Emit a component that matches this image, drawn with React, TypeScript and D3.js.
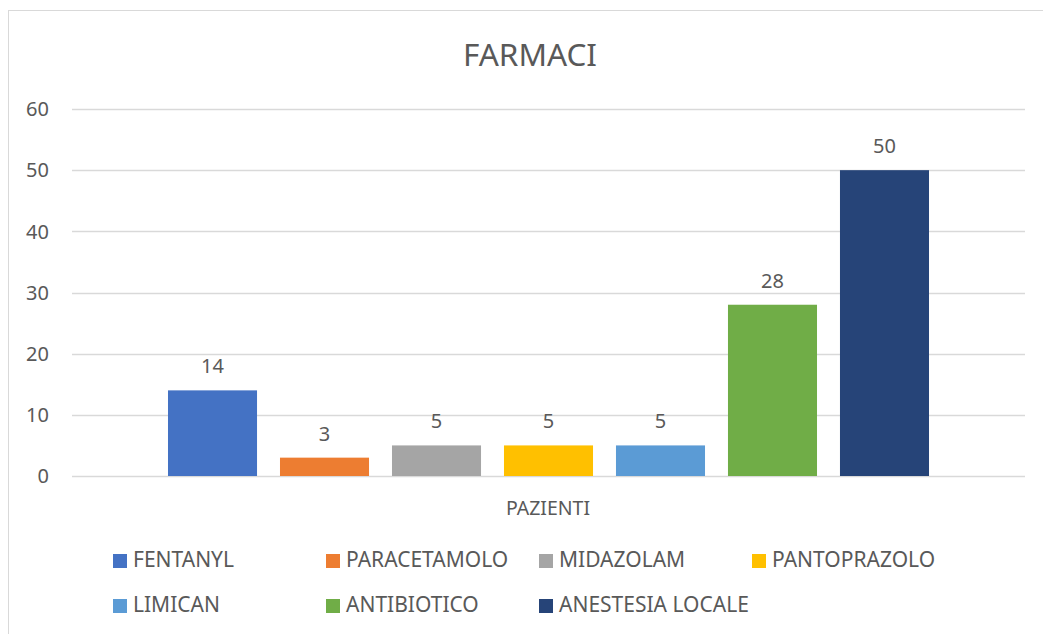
import React from "react";
import * as d3 from "d3";

const title = "FARMACI";
const category = "PAZIENTI";
const drugs = ["FENTANYL", "PARACETAMOLO", "MIDAZOLAM", "PANTOPRAZOLO", "LIMICAN", "ANTIBIOTICO", "ANESTESIA LOCALE"];
const patients = [14, 3, 5, 5, 5, 28, 50];
const colors = ["#4472c4", "#ed7d31", "#a5a5a5", "#ffc000", "#5b9bd5", "#70ad47", "#264478"];
const yTicks = [0, 10, 20, 30, 40, 50, 60];

const W = 1043;
const H = 634;
const FONT = "'Noto Sans', 'Open Sans', sans-serif";
const TEXT = "#595959";

export default function App() {
  const y = d3.scaleLinear().domain([0, 60]).range([476, 109]);
  const x0 = d3.scaleBand().domain([category]).range([72, 1025]).paddingOuter(0.1078);
  const x1 = d3
    .scaleBand()
    .domain(drugs)
    .range([0, x0.bandwidth()])
    .paddingInner(0.205)
    .paddingOuter(0.1025);
  const legendCol = d3.scaleLinear().domain([0, 1]).range([113, 326]);

  return (
    <svg width={W} height={H} style={{ position: "absolute", left: 0, top: 0, fontFamily: FONT }}>
      <rect x={8.5} y={10.5} width={W} height={H} fill="#fff" stroke="#d9d9d9" />
      <text x={530} y={66} textAnchor="middle" fontSize={31.5} fill={TEXT}>
        {title}
      </text>
      {yTicks.map((t) => (
        <g key={t}>
          <line x1={72} x2={1025} y1={Math.round(y(t)) + 0.5} y2={Math.round(y(t)) + 0.5} stroke="#d9d9d9" strokeWidth={1.3} />
          <text x={49} y={y(t)} dy="0.36em" textAnchor="end" fontSize={20} fill={TEXT}>
            {t}
          </text>
        </g>
      ))}
      <g transform={`translate(${x0(category)},0)`}>
        {drugs.map((d, i) => (
          <g key={d}>
            <rect x={x1(d)} y={y(patients[i])} width={x1.bandwidth()} height={y(0) - y(patients[i])} fill={colors[i]} />
            <text
              x={(x1(d) as number) + x1.bandwidth() / 2}
              y={y(patients[i]) - 17}
              textAnchor="middle"
              fontSize={20}
              fill={TEXT}
            >
              {patients[i]}
            </text>
          </g>
        ))}
      </g>
      <text x={548} y={515} textAnchor="middle" fontSize={19.5} fill={TEXT}>
        {category}
      </text>
      {drugs.map((d, i) => {
        const col = i % 4;
        const row = Math.floor(i / 4);
        const lx = legendCol(col);
        const ly = 567 + row * 45;
        return (
          <g key={d}>
            <rect x={lx} y={ly - 13} width={14} height={14} fill={colors[i]} />
            <text x={lx + 20} y={ly} fontSize={21} fill={TEXT}>
              {d}
            </text>
          </g>
        );
      })}
    </svg>
  );
}
